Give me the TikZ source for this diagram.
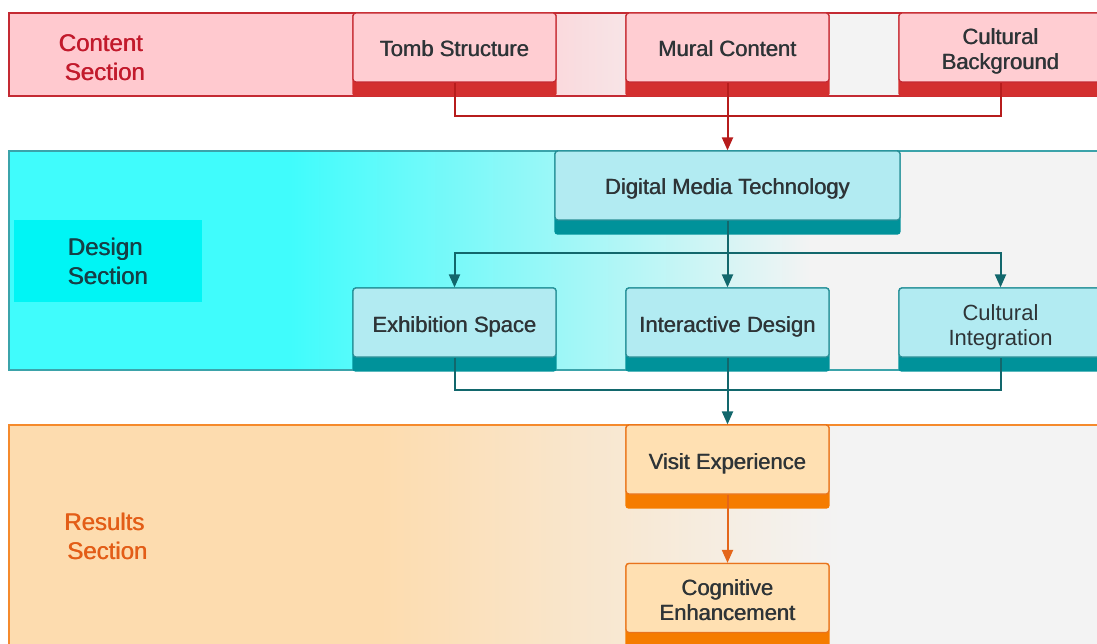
\documentclass[tikz,border=0pt]{standalone}
\usepackage{fontspec}
\setmainfont{Liberation Sans}
\usetikzlibrary{arrows.meta}

\pgfdeclarelayer{bands}
\pgfdeclarelayer{bases}
\pgfsetlayers{bands,bases,main}

% medium-weight look: the text is set twice with a tiny offset
\newcommand{\md}[1]{\rlap{#1}\kern0.55pt#1}

% palette
\definecolor{cPink}{HTML}{FFC9CF}
\definecolor{cGray}{HTML}{F3F3F3}
\definecolor{cRedLine}{HTML}{C42A33}
\definecolor{cRedText}{HTML}{C21A2C}
\definecolor{cRedFill}{HTML}{FFCDD2}
\definecolor{cRedBase}{HTML}{D32F2F}
\definecolor{cRedConn}{HTML}{B71C1C}
\definecolor{cCyan}{HTML}{40FCFC}
\definecolor{cCyanTag}{HTML}{00F5F5}
\definecolor{cTealBorder}{HTML}{3BA3AA}
\definecolor{cTealFill}{HTML}{B2EBF2}
\definecolor{cTealEdge}{HTML}{2C8F97}
\definecolor{cTealBase}{HTML}{00929A}
\definecolor{cTealConn}{HTML}{12676C}
\definecolor{cTealText}{HTML}{163F46}
\definecolor{cPeach}{HTML}{FDDCAF}
\definecolor{cOrangeBorder}{HTML}{F58A2C}
\definecolor{cOrangeFill}{HTML}{FFE0B2}
\definecolor{cOrangeEdge}{HTML}{E8731E}
\definecolor{cOrangeBase}{HTML}{F57C00}
\definecolor{cOrangeConn}{HTML}{E4661A}
\definecolor{cOrangeText}{HTML}{E35D17}
\definecolor{cInk}{HTML}{2E3437}

\tikzset{
  card/.style={rounded corners=3pt, line width=1.2pt, minimum width=203pt,
    minimum height=69pt, align=center, inner sep=2pt, text=cInk,
    text height=20pt, text depth=1pt, font={\fontsize{22pt}{25pt}\selectfont}},
  twolines/.style={text height=46pt, text depth=1pt},
  redcard/.style={card, draw=cRedLine, fill=cRedFill},
  tealcard/.style={card, draw=cTealEdge, fill=cTealFill},
  orangecard/.style={card, draw=cOrangeEdge, fill=cOrangeFill},
  seclabel/.style={align=left, inner sep=0pt,
    font={\fontsize{24pt}{29pt}\selectfont}},
  conn/.style={line width=2pt},
  tip/.style={-{Triangle[length=13pt,width=11pt]}},
  redconn/.style={conn, draw=cRedConn},
  tealconn/.style={conn, draw=cTealConn},
  orangeconn/.style={conn, draw=cOrangeConn},
  baseplate/.style={rounded corners=3pt},
}

\begin{document}
\begin{tikzpicture}[x=1pt,y=-1pt]
\useasboundingbox (0,0) rectangle (1097,644);

% ---------- section bands ----------
\begin{pgfonlayer}{bands}
  \fill[white] (0,0) rectangle (1097,644);
  % content
  \fill[cPink] (9,13) rectangle (451,96);
  \shade[left color=cPink,right color=cGray] (450,13) rectangle (720,96);
  \fill[cGray] (719,13) rectangle (1110,96);
  \draw[cRedLine, line width=1.6pt] (9,13) rectangle (1110,96);
  % design
  \fill[cCyan] (9,151) rectangle (291,370);
  \shade[left color=cCyan,right color=cGray] (290,151) rectangle (810,370);
  \fill[cGray] (809,151) rectangle (1110,370);
  \draw[cTealBorder, line width=1.6pt] (9,151) rectangle (1110,370);
  % results
  \fill[cPeach] (9,425) rectangle (381,660);
  \shade[left color=cPeach,right color=cGray] (380,425) rectangle (840,660);
  \fill[cGray] (839,425) rectangle (1110,660);
  \draw[cOrangeBorder, line width=1.6pt] (9,425) rectangle (1110,660);
\end{pgfonlayer}

% ---------- section labels ----------
\node[seclabel, text=cRedText] (contentlbl) at (102,58) {\md{Content}\\\hspace*{6pt}\md{Section}};
\node[seclabel, text=cTealText, fill=cCyanTag, minimum width=188pt,
      minimum height=82pt] (designlbl) at (108,261) {\md{Design}\\\md{Section}};
\node[seclabel, text=cOrangeText] (resultslbl) at (106,536) {\md{Results}\\\hspace*{3pt}\md{Section}};

% ---------- cards ----------
\node[redcard] (tomb)   at (454.5,47.5) {\md{Tomb Structure}};
\node[redcard] (mural)  at (727.5,47.5) {\md{Mural Content}};
\node[redcard, twolines] (cultbg) at (1000.5,47.5) {\md{Cultural}\\\md{Background}};

\node[tealcard, minimum width=345pt] (dmt) at (727.5,185.5) {\md{Digital Media Technology}};

\node[tealcard] (exhib)   at (454.5,322.5) {\md{Exhibition Space}};
\node[tealcard] (inter)   at (727.5,322.5) {\md{Interactive Design}};
\node[tealcard, twolines] (cultint) at (1000.5,322.5) {Cultural\\Integration};

\node[orangecard] (visit) at (727.5,459.5) {\md{Visit Experience}};
\node[orangecard, twolines] (cog)   at (727.5,598) {\md{Cognitive}\\\md{Enhancement}};

% ---------- darker base plates under the cards ----------
\begin{pgfonlayer}{bases}
  \foreach \n in {tomb,mural,cultbg}
    \fill[cRedBase, baseplate] (\n.north west) rectangle ([yshift=-14pt]\n.south east);
  \foreach \n in {dmt,exhib,inter,cultint}
    \fill[cTealBase, baseplate] (\n.north west) rectangle ([yshift=-14pt]\n.south east);
  \foreach \n in {visit,cog}
    \fill[cOrangeBase, baseplate] (\n.north west) rectangle ([yshift=-14pt]\n.south east);
\end{pgfonlayer}

% ---------- connectors ----------
\coordinate (redJ)  at (0,116);
\coordinate (tealJ) at (0,253);
\coordinate (tealK) at (0,390);

\draw[redconn] (tomb.south) -- (tomb.south |- redJ) -- (cultbg.south |- redJ) -- (cultbg.south);
\draw[redconn, tip] (mural.south) -- (dmt.north);

\draw[tealconn, tip] (dmt.south) -- (inter.north);
\draw[tealconn, tip] (dmt.south |- tealJ) -| (exhib.north);
\draw[tealconn, tip] (dmt.south |- tealJ) -| (cultint.north);

\draw[tealconn] (exhib.south) -- (exhib.south |- tealK) -- (cultint.south |- tealK) -- (cultint.south);
\draw[tealconn, tip] (inter.south) -- (visit.north);

\draw[orangeconn, tip] (visit.south) -- (cog.north);
\end{tikzpicture}
\end{document}
